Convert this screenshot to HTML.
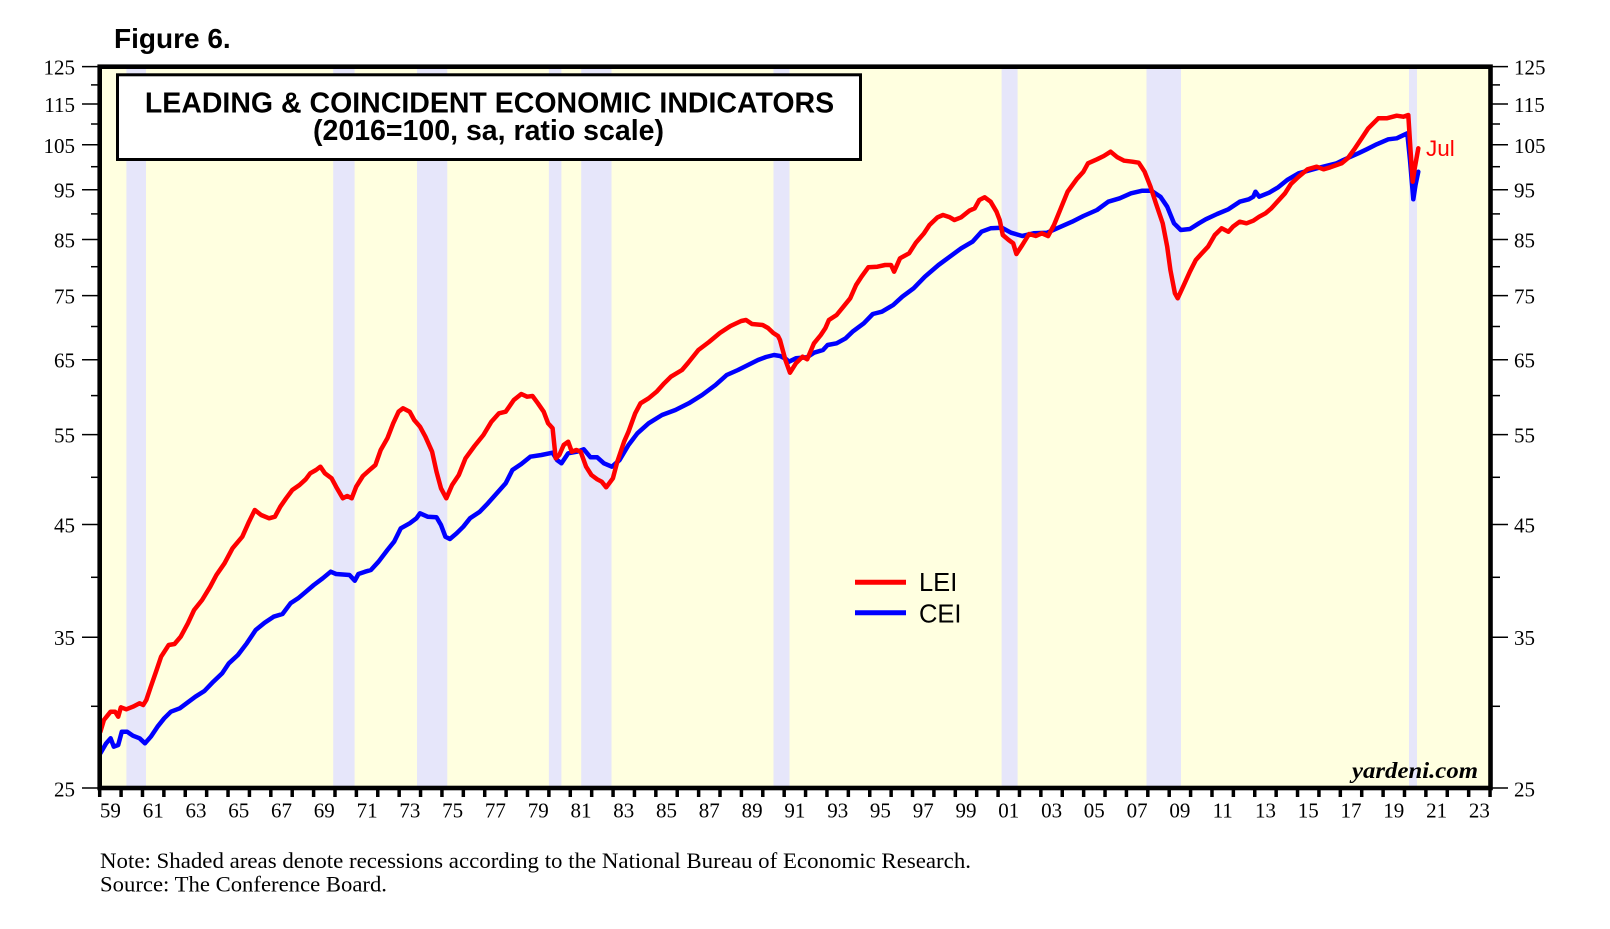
<!DOCTYPE html>
<html><head><meta charset="utf-8"><style>
html,body{margin:0;padding:0;background:#fff;}
svg{display:block;}
.ax{font-family:"Liberation Serif","Times New Roman",serif;font-size:21px;fill:#000;}
</style></head><body>
<svg width="1610" height="929" viewBox="0 0 1610 929" xmlns="http://www.w3.org/2000/svg">
<rect width="1610" height="929" fill="#fff"/>
<text x="114" y="48" font-family="Liberation Sans, Arial, sans-serif" font-weight="bold" font-size="28px">Figure 6.</text>
<!-- plot bg -->
<rect x="99.7" y="66.7" width="1390.8" height="721.3" fill="#FFFFE0"/>
<!-- recessions -->
<g fill="#E6E6FA">
<rect x="126.4" y="67" width="19.6" height="721"/>
<rect x="333.2" y="67" width="21.4" height="721"/>
<rect x="417.0" y="67" width="30.3" height="721"/>
<rect x="548.9" y="67" width="12.5" height="721"/>
<rect x="581.2" y="67" width="30.3" height="721"/>
<rect x="773.5" y="67" width="16.0" height="721"/>
<rect x="1001.6" y="67" width="16.0" height="721"/>
<rect x="1146.5" y="67" width="34.5" height="721"/>
<rect x="1409" y="67" width="8" height="721"/>
</g>
<!-- title box -->
<rect x="117.5" y="74.8" width="743" height="84.7" fill="#fff" stroke="#000" stroke-width="3"/>
<g font-family="Liberation Sans, Arial, sans-serif" font-weight="bold" font-size="28.5px" text-anchor="middle">
<text x="489.5" y="112.7">LEADING &amp; COINCIDENT ECONOMIC INDICATORS</text>
<text x="488.5" y="140">(2016=100, sa, ratio scale)</text>
</g>
<!-- series -->
<g fill="none" stroke-width="4.5" stroke-linejoin="round" stroke-linecap="round">
<polyline stroke="#0000FF" points="100.4,753.3 106.2,743.3 110.6,738.3 113.8,746.7 118.2,745 121.8,731.7 127.1,731.7 132.9,735.7 139.6,738.3 145,743.3 150.8,736.7 157.5,726.7 164.2,718.3 170.9,711.7 179.8,708.3 186.5,703.3 195.4,696.7 204.4,691 213.3,681.7 222.2,673.3 228.9,663.3 237.9,655 246.8,643.3 255.7,630 264.6,622.7 273.6,616.7 282.5,614 290.5,603.3 298.1,598.3 304.8,592.7 313.8,585 322.7,578.3 330.7,571.7 336.1,574 349.5,575 354.8,580.7 358.4,574 365.1,571.7 370.9,570 378.5,561.7 387.4,550 394.1,541.7 400.8,528.3 409.7,523.3 416.4,518.3 420,513.3 427.6,516.7 436.5,517.3 441,525 445.4,536.7 449.9,539 456.6,533.3 463.3,526.7 470,518.3 479.8,511.7 487.9,503.3 496.8,493.3 505.7,483.3 512.4,470 521.3,464 530.3,456.7 541.4,455 552.6,452.7 557,460 561.5,463.3 568.2,453.3 577.1,451.7 583.8,449.3 590.5,457.3 597.2,457.3 603.9,463.3 611.9,466.7 619.6,460 628.5,445 637.4,433.3 648.6,423.3 662,415 675.4,410 688.8,403.3 702.1,395 715.5,385 726.7,375 738,370 748,365 758,360 766,357 774,355 780,356 786,359 789,361.7 795.9,358.3 807,357.3 814,352.7 823,350 827.6,345 836.6,343.3 845.7,338.3 852.5,331.7 863.8,323.3 872.8,314 881.9,311.7 893.2,305 902.3,296.7 913.6,288.3 924.9,276.7 938.5,265 949.8,256.7 961.2,248.3 972.5,241.7 981.5,231.7 990.6,228.3 1001.9,227.7 1011,232.7 1022.3,236 1033.6,233.3 1047.2,232.7 1058.5,227.7 1072.1,221.7 1083.4,216 1097,210 1108.3,201.7 1119.7,198.3 1131,193.3 1142.3,190.7 1151.4,190.7 1160.4,196.7 1167.2,206.7 1174,223.3 1180.8,230 1189.9,229 1198.9,223.3 1205.7,219.3 1217.1,214 1228.4,209.3 1239.7,201.7 1248.8,199.3 1253.3,196.7 1255.5,191.7 1259.2,196.7 1269.1,192.7 1278.2,187.3 1287.2,180 1298.6,173.3 1316.7,168.3 1336.7,163.3 1343.3,160 1358.3,153.3 1366.7,149.3 1376.7,144.3 1388.3,139.3 1396.7,138.3 1407.3,133.3 1410,160 1413.3,199.3 1415.5,185 1418.3,171.7"/>
<polyline stroke="#FF0000" points="100.4,731.7 103.9,720 110.6,711.7 115.1,711.7 118.2,716.7 120.9,707.3 126.3,709.3 132.9,706.7 139.6,703.3 143.2,705 146.3,700 150.8,686.7 156.6,670 161.1,656.7 168.7,645 174.5,644 180.7,636.7 187.9,623.3 194.1,610 202.1,600 210.2,586.7 216.4,575 224.5,563.3 232.5,548.3 242.3,536.7 249,521.7 254.8,510 261.1,515 269.1,518.3 274.9,516.7 280.3,506.7 286.1,498.3 292.3,490 299.5,485 305.7,479.3 310.2,473.3 316,470 320.4,466.7 324.9,473.3 331.6,478.3 336.1,486.7 342.8,498.3 347.2,496 351.7,498.3 356.2,486.7 362.9,476 369.6,470 375.4,465 380.7,450 387.4,438.3 393.2,423.3 398.6,411.7 403,408.3 409.7,411.7 414.2,420 420,426.7 425.4,436.7 432.1,451.7 436.5,471.7 441,488.3 446.3,498.3 452.1,485 458.8,475 465.5,458.3 474.5,446 483.4,435 491.4,421.7 499,413.3 505.7,411.7 513.8,400 521.3,394 527.1,396.7 532.5,396 537.9,403.3 543.7,411.7 548.1,423.3 552.6,428.3 555.7,458.3 559.3,455 563.7,445 568.2,441.7 571.8,451.7 576.3,450 580.7,451.7 586.1,466.7 591.4,475 597.2,479.3 601.7,481.7 606.2,487.3 612.9,478.3 617.3,461.7 624.1,441.7 628.5,431.7 635.2,413.3 640.5,403.3 648.6,398.3 656.6,391.7 664.2,383.3 670.9,376.7 682,370 688,363 698.4,350 709,342 719.8,333 730.5,326 741.2,321 746,320 752,324 762.6,325 768,328 773.3,333 778,336 780,340 785.4,360 790,372.7 795.9,363.3 802.6,356.7 807.2,359.3 814,343.3 820.8,335 825.3,328.3 828.9,320 836.6,315 843.4,306.7 850.2,298.3 856.1,285 861.5,276.7 868.3,267.3 877.4,266.7 885.1,265 891,265 894.1,271.7 900,258.3 909.1,253.3 915.9,242.7 924,233.3 929.5,225 937.6,217.3 943,215 949.8,217.3 954.4,220 961.2,217.3 969.3,210.7 974.7,208.3 979.3,200 984.7,197.3 990.6,201.7 996.5,211.7 999.7,220 1002.8,235 1008.7,240 1013.2,243.3 1016.4,254 1022.3,245 1029.1,234 1035.9,236 1041.8,233.3 1048.1,236 1054,225 1060.8,208.3 1067.6,191.7 1076.6,179.3 1083.4,171.7 1088,163.3 1097,159.3 1103.8,156 1110.6,151.7 1117.4,157.3 1124.2,160.7 1132.4,161.7 1138.7,162.7 1144.6,171.7 1150.5,186.7 1155.9,203.3 1162.7,223.3 1167.2,246.7 1170.4,270 1174.9,293.3 1177.7,298.3 1183.1,286.7 1189.9,271.7 1195.8,260 1201.2,254 1208,246.7 1214.8,235 1221.6,228.3 1228.4,231.7 1232.9,226.7 1239.7,221.7 1246.5,223.3 1253.3,220.7 1259.2,216.7 1265.5,213.3 1271.4,208.3 1277.3,201.7 1285,193.3 1290.9,184 1298.6,176.7 1307.6,169.3 1316.7,166.7 1323.5,169.3 1330.3,167.3 1341.7,163.3 1348,158 1355,148.3 1361.7,138.3 1368.3,128.3 1378.3,118.3 1386.7,118.3 1396.7,115.7 1403.3,116.7 1408.3,115 1410.5,150 1412.7,181.7 1415,166.7 1418.3,148.3"/>
</g>
<text x="1426" y="156" font-family="Liberation Sans, Arial, sans-serif" font-size="22.5px" fill="#FF0000">Jul</text>
<!-- legend -->
<line x1="855" y1="582.3" x2="906" y2="582.3" stroke="#FF0000" stroke-width="5"/>
<line x1="855" y1="612.7" x2="906" y2="612.7" stroke="#0000FF" stroke-width="5"/>
<g font-family="Liberation Sans, Arial, sans-serif" font-size="25.5px">
<text x="919" y="591">LEI</text>
<text x="919" y="622.7">CEI</text>
</g>
<text x="1352" y="778" font-family="Liberation Serif, Times New Roman, serif" font-style="italic" font-weight="bold" font-size="23px" textLength="126" lengthAdjust="spacingAndGlyphs">yardeni.com</text>
<!-- frame -->
<rect x="99.7" y="66.7" width="1390.8" height="721.3" fill="none" stroke="#000" stroke-width="4.6"/>
<!-- y ticks -->
<g stroke="#000" stroke-width="1.5">
<line x1="82" y1="66.65" x2="99" y2="66.65"/><line x1="1491" y1="66.65" x2="1508" y2="66.65"/>
<line x1="91" y1="84.9" x2="99" y2="84.9"/><line x1="1491" y1="84.9" x2="1500" y2="84.9"/>
<line x1="82" y1="104" x2="99" y2="104"/><line x1="1491" y1="104" x2="1508" y2="104"/>
<line x1="91" y1="124" x2="99" y2="124"/><line x1="1491" y1="124" x2="1500" y2="124"/>
<line x1="82" y1="144.8" x2="99" y2="144.8"/><line x1="1491" y1="144.8" x2="1508" y2="144.8"/>
<line x1="91" y1="166.7" x2="99" y2="166.7"/><line x1="1491" y1="166.7" x2="1500" y2="166.7"/>
<line x1="82" y1="189.7" x2="99" y2="189.7"/><line x1="1491" y1="189.7" x2="1508" y2="189.7"/>
<line x1="91" y1="213.9" x2="99" y2="213.9"/><line x1="1491" y1="213.9" x2="1500" y2="213.9"/>
<line x1="82" y1="239.5" x2="99" y2="239.5"/><line x1="1491" y1="239.5" x2="1508" y2="239.5"/>
<line x1="91" y1="266.7" x2="99" y2="266.7"/><line x1="1491" y1="266.7" x2="1500" y2="266.7"/>
<line x1="82" y1="295.6" x2="99" y2="295.6"/><line x1="1491" y1="295.6" x2="1508" y2="295.6"/>
<line x1="91" y1="326.5" x2="99" y2="326.5"/><line x1="1491" y1="326.5" x2="1500" y2="326.5"/>
<line x1="82" y1="359.7" x2="99" y2="359.7"/><line x1="1491" y1="359.7" x2="1508" y2="359.7"/>
<line x1="91" y1="395.6" x2="99" y2="395.6"/><line x1="1491" y1="395.6" x2="1500" y2="395.6"/>
<line x1="82" y1="434.6" x2="99" y2="434.6"/><line x1="1491" y1="434.6" x2="1508" y2="434.6"/>
<line x1="91" y1="477.3" x2="99" y2="477.3"/><line x1="1491" y1="477.3" x2="1500" y2="477.3"/>
<line x1="82" y1="524.5" x2="99" y2="524.5"/><line x1="1491" y1="524.5" x2="1508" y2="524.5"/>
<line x1="91" y1="577.3" x2="99" y2="577.3"/><line x1="1491" y1="577.3" x2="1500" y2="577.3"/>
<line x1="82" y1="637.2" x2="99" y2="637.2"/><line x1="1491" y1="637.2" x2="1508" y2="637.2"/>
<line x1="91" y1="706.3" x2="99" y2="706.3"/><line x1="1491" y1="706.3" x2="1500" y2="706.3"/>
<line x1="82" y1="788" x2="99" y2="788"/><line x1="1491" y1="788" x2="1508" y2="788"/>
</g>
<g class="ax" text-anchor="end">
<text x="75" y="74.7">125</text><text x="75" y="112">115</text><text x="75" y="152.8">105</text><text x="75" y="197.7">95</text><text x="75" y="247.5">85</text><text x="75" y="303.6">75</text><text x="75" y="367.7">65</text><text x="75" y="442.6">55</text><text x="75" y="532.5">45</text><text x="75" y="645.2">35</text><text x="75" y="796.3">25</text>
</g>
<g class="ax" text-anchor="start">
<text x="1514" y="74.7">125</text><text x="1514" y="112">115</text><text x="1514" y="152.8">105</text><text x="1514" y="197.7">95</text><text x="1514" y="247.5">85</text><text x="1514" y="303.6">75</text><text x="1514" y="367.7">65</text><text x="1514" y="442.6">55</text><text x="1514" y="532.5">45</text><text x="1514" y="645.2">35</text><text x="1514" y="796.3">25</text>
</g>
<!-- x ticks -->
<g stroke="#000" stroke-width="3.5">
<line x1="99.7" y1="788" x2="99.7" y2="797"/><line x1="121.09" y1="788" x2="121.09" y2="797"/><line x1="142.48" y1="788" x2="142.48" y2="797"/><line x1="163.87" y1="788" x2="163.87" y2="797"/><line x1="185.26" y1="788" x2="185.26" y2="797"/><line x1="206.65" y1="788" x2="206.65" y2="797"/><line x1="228.04" y1="788" x2="228.04" y2="797"/><line x1="249.43" y1="788" x2="249.43" y2="797"/><line x1="270.82" y1="788" x2="270.82" y2="797"/><line x1="292.21" y1="788" x2="292.21" y2="797"/><line x1="313.6" y1="788" x2="313.6" y2="797"/><line x1="334.99" y1="788" x2="334.99" y2="797"/><line x1="356.38" y1="788" x2="356.38" y2="797"/><line x1="377.77" y1="788" x2="377.77" y2="797"/><line x1="399.16" y1="788" x2="399.16" y2="797"/><line x1="420.55" y1="788" x2="420.55" y2="797"/><line x1="441.94" y1="788" x2="441.94" y2="797"/><line x1="463.33" y1="788" x2="463.33" y2="797"/><line x1="484.72" y1="788" x2="484.72" y2="797"/><line x1="506.11" y1="788" x2="506.11" y2="797"/><line x1="527.5" y1="788" x2="527.5" y2="797"/><line x1="548.89" y1="788" x2="548.89" y2="797"/><line x1="570.28" y1="788" x2="570.28" y2="797"/><line x1="591.67" y1="788" x2="591.67" y2="797"/><line x1="613.06" y1="788" x2="613.06" y2="797"/><line x1="634.45" y1="788" x2="634.45" y2="797"/><line x1="655.84" y1="788" x2="655.84" y2="797"/><line x1="677.23" y1="788" x2="677.23" y2="797"/><line x1="698.62" y1="788" x2="698.62" y2="797"/><line x1="720.01" y1="788" x2="720.01" y2="797"/><line x1="741.4" y1="788" x2="741.4" y2="797"/><line x1="762.79" y1="788" x2="762.79" y2="797"/><line x1="784.18" y1="788" x2="784.18" y2="797"/><line x1="805.57" y1="788" x2="805.57" y2="797"/><line x1="826.96" y1="788" x2="826.96" y2="797"/><line x1="848.35" y1="788" x2="848.35" y2="797"/><line x1="869.74" y1="788" x2="869.74" y2="797"/><line x1="891.13" y1="788" x2="891.13" y2="797"/><line x1="912.52" y1="788" x2="912.52" y2="797"/><line x1="933.91" y1="788" x2="933.91" y2="797"/><line x1="955.3" y1="788" x2="955.3" y2="797"/><line x1="976.69" y1="788" x2="976.69" y2="797"/><line x1="998.08" y1="788" x2="998.08" y2="797"/><line x1="1019.47" y1="788" x2="1019.47" y2="797"/><line x1="1040.86" y1="788" x2="1040.86" y2="797"/><line x1="1062.25" y1="788" x2="1062.25" y2="797"/><line x1="1083.64" y1="788" x2="1083.64" y2="797"/><line x1="1105.03" y1="788" x2="1105.03" y2="797"/><line x1="1126.42" y1="788" x2="1126.42" y2="797"/><line x1="1147.81" y1="788" x2="1147.81" y2="797"/><line x1="1169.2" y1="788" x2="1169.2" y2="797"/><line x1="1190.59" y1="788" x2="1190.59" y2="797"/><line x1="1211.98" y1="788" x2="1211.98" y2="797"/><line x1="1233.37" y1="788" x2="1233.37" y2="797"/><line x1="1254.76" y1="788" x2="1254.76" y2="797"/><line x1="1276.15" y1="788" x2="1276.15" y2="797"/><line x1="1297.54" y1="788" x2="1297.54" y2="797"/><line x1="1318.93" y1="788" x2="1318.93" y2="797"/><line x1="1340.32" y1="788" x2="1340.32" y2="797"/><line x1="1361.71" y1="788" x2="1361.71" y2="797"/><line x1="1383.1" y1="788" x2="1383.1" y2="797"/><line x1="1404.49" y1="788" x2="1404.49" y2="797"/><line x1="1425.88" y1="788" x2="1425.88" y2="797"/><line x1="1447.27" y1="788" x2="1447.27" y2="797"/><line x1="1468.66" y1="788" x2="1468.66" y2="797"/><line x1="1490.05" y1="788" x2="1490.05" y2="797"/>
</g>
<g class="ax" text-anchor="middle">
<text x="110.4" y="817.5">59</text><text x="153.2" y="817.5">61</text><text x="196" y="817.5">63</text><text x="238.7" y="817.5">65</text><text x="281.5" y="817.5">67</text><text x="324.3" y="817.5">69</text><text x="367.1" y="817.5">71</text><text x="409.9" y="817.5">73</text><text x="452.6" y="817.5">75</text><text x="495.4" y="817.5">77</text><text x="538.2" y="817.5">79</text><text x="581" y="817.5">81</text><text x="623.8" y="817.5">83</text><text x="666.5" y="817.5">85</text><text x="709.3" y="817.5">87</text><text x="752.1" y="817.5">89</text><text x="794.9" y="817.5">91</text><text x="837.7" y="817.5">93</text><text x="880.4" y="817.5">95</text><text x="923.2" y="817.5">97</text><text x="966" y="817.5">99</text><text x="1008.8" y="817.5">01</text><text x="1051.6" y="817.5">03</text><text x="1094.3" y="817.5">05</text><text x="1137.1" y="817.5">07</text><text x="1179.9" y="817.5">09</text><text x="1222.7" y="817.5">11</text><text x="1265.5" y="817.5">13</text><text x="1308.2" y="817.5">15</text><text x="1351" y="817.5">17</text><text x="1393.8" y="817.5">19</text><text x="1436.6" y="817.5">21</text><text x="1479.4" y="817.5">23</text>
</g>
<!-- notes -->
<g font-family="Liberation Serif, Times New Roman, serif" font-size="22px">
<text x="100" y="868" textLength="871" lengthAdjust="spacingAndGlyphs">Note: Shaded areas denote recessions according to the National Bureau of Economic Research.</text>
<text x="100" y="891.5" textLength="287" lengthAdjust="spacingAndGlyphs">Source: The Conference Board.</text>
</g>
</svg>
</body></html>
